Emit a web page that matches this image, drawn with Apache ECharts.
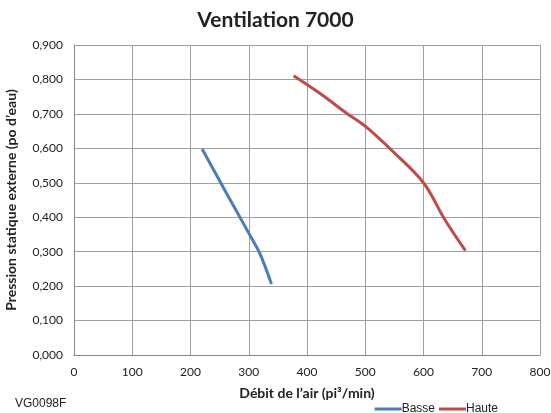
<!DOCTYPE html>
<html>
<head>
<meta charset="utf-8">
<script src="https://cdn.jsdelivr.net/npm/echarts@6/dist/echarts.min.js"></script>
<style>
  html, body { margin: 0; padding: 0; background: #fff; }
  #chart { width: 551px; height: 413px; }
</style>
</head>
<body>
<div id="chart"></div>
<script>
// débit (pi³/min) vs pression (po d'eau)
var basseX = [220, 262, 302, 319, 339];
var basseY = [0.598, 0.469, 0.348, 0.295, 0.206];
var hauteX = [377, 422, 468, 501, 548, 600, 637, 672];
var hauteY = [0.811, 0.760, 0.702, 0.663, 0.590, 0.500, 0.392, 0.303];
var seriesNames = ['Basse', 'Haute'];
var seriesColors = ['#4a7ebb', '#be4b48'];

function pairs(xs, ys) {
  return xs.map(function (x, i) { return [x, ys[i]]; });
}

var chart = echarts.init(document.getElementById('chart'));
var font = 'Lato, "Open Sans", sans-serif';

var option = {
  animation: false,
  title: {
    text: 'Ventilation 7000',
    left: 'center',
    top: 5,
    textStyle: { fontFamily: font, fontSize: 21, fontWeight: 'bold', color: '#222' }
  },
  graphic: [{
    type: 'text',
    left: 15,
    top: 398,
    style: { text: 'VG0098F', fontFamily: 'Liberation Sans, Arial', fontSize: 12, fill: '#222' }
  }],
  legend: {
    right: 48,
    top: 398,
    itemWidth: 27,
    itemHeight: 3,
    itemGap: 4,
    icon: 'rect',
    textStyle: { fontFamily: 'Liberation Sans, Arial', fontSize: 12, color: '#222', padding: [0, 0, 0, -5] },
    data: seriesNames
  },
  grid: { left: 74, right: 11, top: 45, bottom: 58, outerBoundsMode: 'none' },
  xAxis: {
    type: 'value',
    min: 0, max: 800, interval: 100,
    name: 'Débit de l\u2019air (pi³/min)',
    nameLocation: 'middle',
    nameGap: 31,
    nameTextStyle: { fontFamily: font, fontSize: 14, fontWeight: 'bold', color: '#222' },
    axisLine: { show: true, lineStyle: { color: '#888' } },
    axisTick: { show: false },
    axisLabel: { fontFamily: font, fontSize: 12, color: '#222', margin: 11 },
    splitLine: { show: true, lineStyle: { color: '#a0a0a0', width: 1 } }
  },
  yAxis: {
    type: 'value',
    min: 0, max: 0.9, interval: 0.1,
    name: 'Pression statique externe (po d\u2019eau)',
    nameLocation: 'middle',
    nameGap: 56,
    nameTextStyle: { fontFamily: font, fontSize: 14, fontWeight: 'bold', color: '#222' },
    axisLine: { show: true, lineStyle: { color: '#888' } },
    axisTick: { show: false },
    axisLabel: {
      fontFamily: font, fontSize: 12, color: '#222', margin: 11,
      formatter: function (v) { return v.toFixed(3).replace('.', ','); }
    },
    splitLine: { show: true, lineStyle: { color: '#a0a0a0', width: 1 } }
  },
  series: [
    {
      name: seriesNames[0], type: 'line', smooth: 0.35, showSymbol: false,
      data: pairs(basseX, basseY),
      itemStyle: { color: seriesColors[0] },
      lineStyle: { color: seriesColors[0], width: 3 }
    },
    {
      name: seriesNames[1], type: 'line', smooth: 0.35, showSymbol: false,
      data: pairs(hauteX, hauteY),
      itemStyle: { color: seriesColors[1] },
      lineStyle: { color: seriesColors[1], width: 3 }
    }
  ]
};

chart.setOption(option);
</script>
</body>
</html>
